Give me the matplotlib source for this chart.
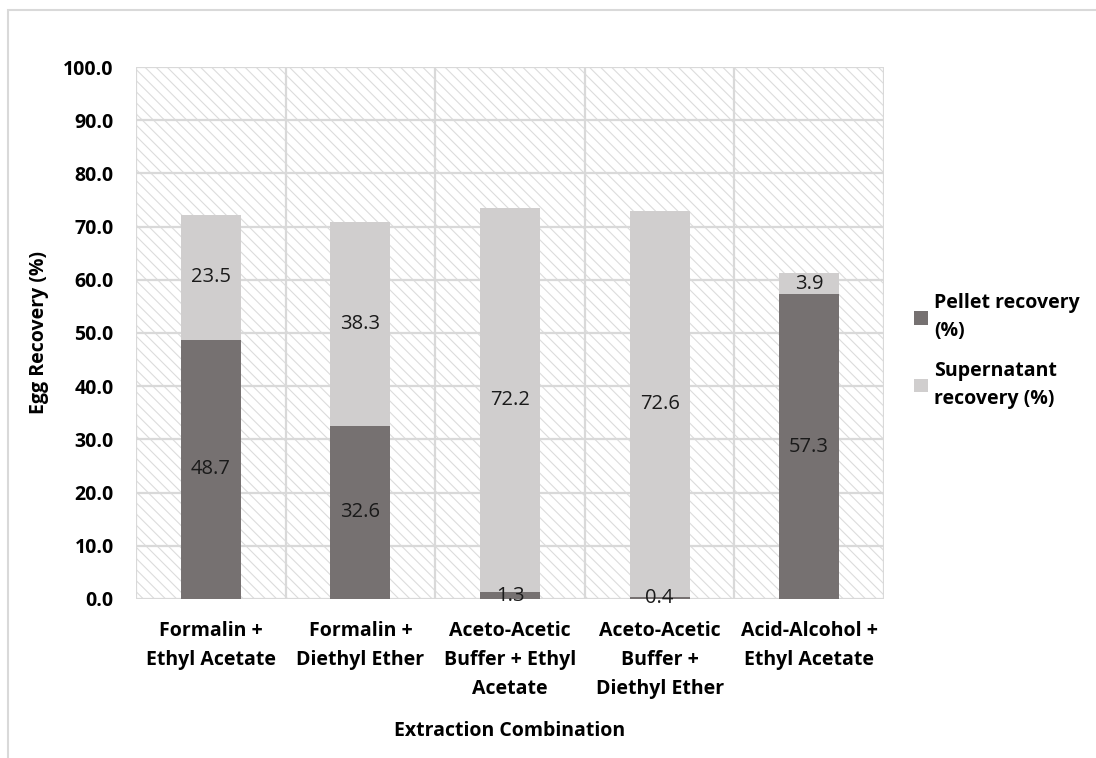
import matplotlib
matplotlib.use('Agg')
import matplotlib.pyplot as plt
import matplotlib.patches as mpatches
import numpy as np

plt.rcParams['font.family'] = ['Open Sans', 'DejaVu Sans']
plt.rcParams['hatch.color'] = '#dcdcdc'
plt.rcParams['hatch.linewidth'] = 0.8

categories = ['Formalin +\nEthyl Acetate', 'Formalin +\nDiethyl Ether',
              'Aceto-Acetic\nBuffer + Ethyl\nAcetate', 'Aceto-Acetic\nBuffer +\nDiethyl Ether',
              'Acid-Alcohol +\nEthyl Acetate']
pellet = [48.7, 32.6, 1.3, 0.4, 57.3]
supernatant = [23.5, 38.3, 72.2, 72.6, 3.9]
series_names = ['Pellet recovery\n(%)', 'Supernatant\nrecovery (%)']
yticks = np.arange(0, 101, 10)

pellet_color = '#767171'
super_color = '#d0cece'
grid_color = '#d9d9d9'

fig = plt.figure(figsize=(10.96, 7.58), dpi=100)
ax = fig.add_axes([0.1241, 0.2098, 0.6825, 0.7018])

# outer chart border
fig.patches.append(mpatches.Rectangle((8 / 1096, -0.05), 1.2, 1 - 10 / 758 + 0.05,
                                      transform=fig.transFigure, fill=False,
                                      edgecolor='#d9d9d9', linewidth=1.5))

x = np.arange(len(categories))
n = len(categories)

# hatched plot background
ax.add_patch(mpatches.Rectangle((-0.5, 0), n, 100, facecolor='white',
                                hatch='\\\\\\', edgecolor='#dcdcdc', linewidth=0, zorder=0))

for v in yticks:
    ax.axhline(v, color=grid_color, linewidth=1.6, zorder=1)
for b in np.arange(-0.5, n, 1):
    ax.axvline(b, color=grid_color, linewidth=1.6, zorder=1)

w = 0.4
b1 = ax.bar(x, pellet, width=w, color=pellet_color, zorder=3, label=series_names[0])
b2 = ax.bar(x, supernatant, width=w, bottom=pellet, color=super_color, zorder=3,
            label=series_names[1])

for i in range(n):
    ax.text(x[i], pellet[i] / 2, f'{pellet[i]:.1f}', ha='center', va='center',
            fontsize=14.5, color='#1a1a1a', zorder=5)
    ax.text(x[i], pellet[i] + supernatant[i] / 2, f'{supernatant[i]:.1f}', ha='center',
            va='center', fontsize=14.5, color='#1a1a1a', zorder=5)

ax.set_xlim(-0.5, n - 0.5)
ax.set_ylim(0, 100)
ax.set_yticks(yticks)
ax.set_yticklabels([f'{v:.1f}' for v in yticks], fontsize=14, fontweight='bold')
ax.set_xticks(x)
ax.set_xticklabels(categories, fontsize=14, fontweight='bold', linespacing=1.58)
ax.tick_params(axis='x', length=0, pad=16)
ax.tick_params(axis='y', length=0, pad=16)
for s in ax.spines.values():
    s.set_visible(False)

ax.set_ylabel('Egg Recovery (%)', fontsize=14, fontweight='bold', labelpad=10)
ax.set_xlabel('Extraction Combination', fontsize=14, fontweight='bold', labelpad=16)

leg = fig.legend(handles=[b1, b2], labels=series_names, loc='center left',
                 bbox_to_anchor=(0.818, 0.537), frameon=False,
                 prop={'weight': 'bold', 'size': 14}, handlelength=0.7, handleheight=0.7,
                 handletextpad=0.35, labelspacing=1.0)
for t in leg.get_texts():
    t.set_linespacing(1.55)

fig.savefig('out.png', dpi=100)
